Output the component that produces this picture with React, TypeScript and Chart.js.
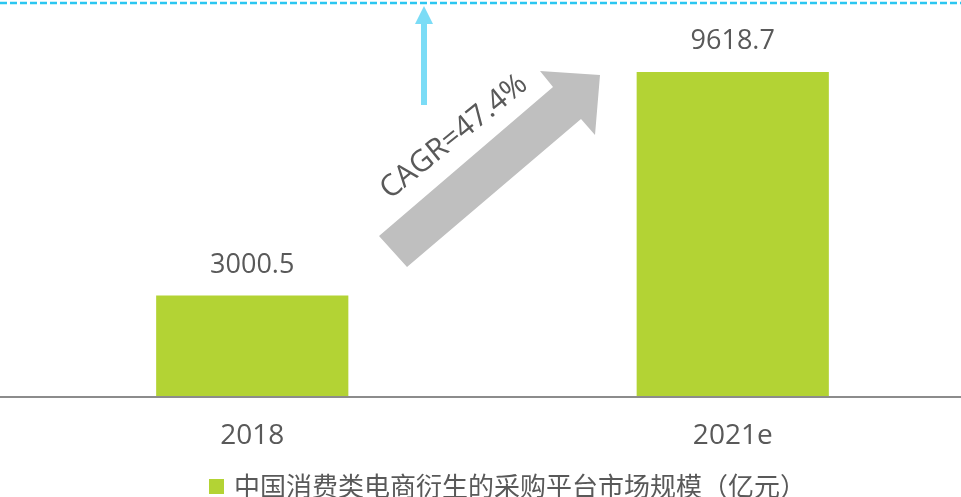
import React, { useEffect, useRef } from 'react';
import { Chart, registerables } from 'chart.js';

Chart.register(...registerables);

const categories = ['2018', '2021e'];
const marketSize = [3000.5, 9618.7];
const seriesLabel = '中国消费类电商衍生的采购平台市场规模（亿元）';
const cagrText = 'CAGR=47.4%';
const yMax = 11513;

const LATIN = "'Open Sans', 'Noto Sans CJK SC', sans-serif";
const CJK = "'Noto Sans CJK SC', sans-serif";
const TEXT = '#595959';
const BAR = '#B3D334';

export default function App() {
  const ref = useRef<HTMLCanvasElement>(null);

  useEffect(() => {
    document.body.style.margin = '0';
    const canvas = ref.current!;

    const decor = {
      id: 'decor',
      afterDraw(chart: any) {
        const ctx = chart.ctx as CanvasRenderingContext2D;
        const yScale = chart.scales.y;
        const base = yScale.getPixelForValue(0);
        ctx.save();

        // baseline
        ctx.strokeStyle = '#8C8C8C';
        ctx.lineWidth = 2;
        ctx.beginPath();
        ctx.moveTo(0, base);
        ctx.lineTo(961, base);
        ctx.stroke();

        // value labels
        const meta = chart.getDatasetMeta(0);
        ctx.fillStyle = TEXT;
        ctx.font = `27px ${LATIN}`;
        ctx.textAlign = 'center';
        ctx.textBaseline = 'alphabetic';
        meta.data.forEach((bar: any, i: number) => {
          ctx.fillText(String(chart.data.datasets[0].data[i]), bar.x, bar.y - 23);
        });

        // dashed top line
        ctx.setLineDash([7, 3]);
        ctx.strokeStyle = '#2BC6F0';
        ctx.lineWidth = 2.5;
        ctx.beginPath();
        ctx.moveTo(0, 3);
        ctx.lineTo(961, 3);
        ctx.stroke();
        ctx.setLineDash([]);

        // cyan up arrow
        ctx.fillStyle = '#7BDCF6';
        ctx.fillRect(421, 23, 6, 82);
        ctx.beginPath();
        ctx.moveTo(415, 24);
        ctx.lineTo(433, 24);
        ctx.lineTo(424, 6);
        ctx.closePath();
        ctx.fill();

        // gray growth arrow
        ctx.fillStyle = '#BFBFBF';
        ctx.beginPath();
        ctx.moveTo(379, 236);
        ctx.lineTo(553, 87);
        ctx.lineTo(540, 71);
        ctx.lineTo(600, 75);
        ctx.lineTo(595, 135);
        ctx.lineTo(581, 119);
        ctx.lineTo(407, 267);
        ctx.closePath();
        ctx.fill();

        // CAGR text
        ctx.save();
        ctx.translate(454, 137);
        ctx.rotate((-39 * Math.PI) / 180);
        ctx.fillStyle = TEXT;
        ctx.font = `30px ${LATIN}`;
        ctx.textAlign = 'center';
        ctx.textBaseline = 'middle';
        ctx.fillText(cagrText, 0, 0);
        ctx.restore();

        // legend
        const ds = chart.data.datasets[0];
        ctx.fillStyle = ds.backgroundColor;
        ctx.fillRect(209, 479, 15, 15);
        ctx.fillStyle = TEXT;
        ctx.font = `26px ${CJK}`;
        ctx.textAlign = 'left';
        ctx.textBaseline = 'middle';
        ctx.fillText(ds.label, 234, 486);

        ctx.restore();
      },
    };

    const chart = new Chart(canvas, {
      type: 'bar',
      data: {
        labels: categories,
        datasets: [
          {
            label: seriesLabel,
            data: marketSize,
            backgroundColor: BAR,
            borderWidth: 0,
            categoryPercentage: 1,
            barPercentage: 0.4,
          },
        ],
      },
      options: {
        animation: false,
        responsive: false,
        devicePixelRatio: 1,
        layout: { padding: { left: 12, top: 8, right: 0, bottom: 0 } },
        plugins: { legend: { display: false }, tooltip: { enabled: false } },
        scales: {
          x: {
            grid: { display: false, drawTicks: false },
            border: { display: false },
            ticks: { color: TEXT, font: { family: LATIN, size: 28 }, padding: 22 },
            afterFit(s: any) {
              s.height = 100;
            },
          },
          y: { display: false, min: 0, max: yMax },
        },
      },
      plugins: [decor],
    } as any);

    return () => chart.destroy();
  }, []);

  return (
    <div
      style={{
        position: 'fixed',
        left: 0,
        top: 0,
        width: 961,
        height: 497,
        overflow: 'hidden',
        background: '#fff',
      }}
    >
      <canvas ref={ref} width={973} height={497} style={{ display: 'block', width: 973, height: 497 }} />
    </div>
  );
}
